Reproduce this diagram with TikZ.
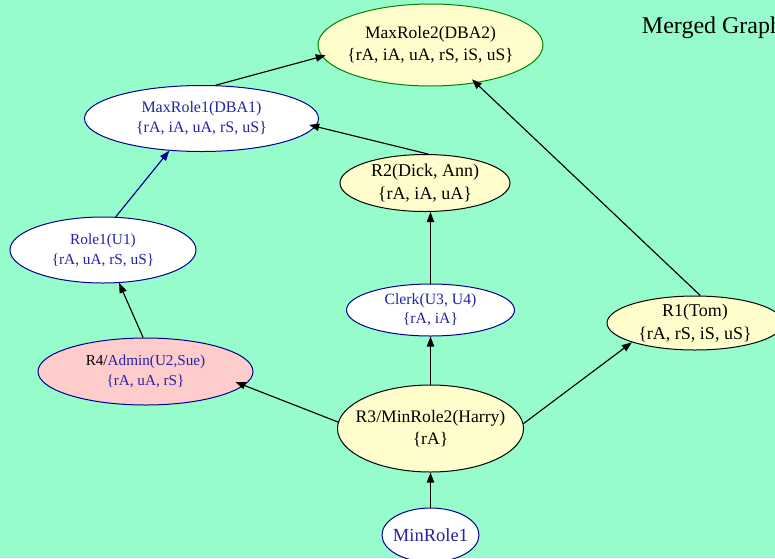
\documentclass[tikz,border=0pt]{standalone}
\usepackage{fontspec}
\setmainfont{Liberation Serif}
\usetikzlibrary{arrows.meta,shapes.geometric}

\definecolor{bgmint}{RGB}{150,252,204}
\definecolor{roleyellow}{RGB}{255,253,204}
\definecolor{rolepink}{RGB}{255,204,204}
\definecolor{rolenavy}{RGB}{0,0,140}
\definecolor{roleblue}{RGB}{35,35,165}
\definecolor{rolegreen}{RGB}{0,130,0}

\tikzset{
  role/.style={ellipse, draw, line width=0.75pt, inner sep=0pt},
  yellowrole/.style={role, fill=roleyellow, draw=black},
  whiterole/.style={role, fill=white, draw=rolenavy},
  pinkrole/.style={role, fill=rolepink, draw=rolenavy},
  toprole/.style={role, fill=roleyellow, draw=rolegreen},
  caption/.style={align=center, inner sep=0pt},
  bigtext/.style={caption, font=\fontsize{13.3pt}{17pt}\selectfont},
  smalltext/.style={caption, text=roleblue, font=\fontsize{11.7pt}{15pt}\selectfont},
  link/.style={draw=black, line width=0.85pt, -{Triangle[length=7.5pt,width=5.5pt]}},
}

\begin{document}
\begin{tikzpicture}[x=0.75pt, y=-0.75pt]
  % canvas
  \fill[bgmint] (0,0) rectangle (775,558);
  \clip (0,0) rectangle (775,558);

  % role hierarchy nodes
  \node[toprole, minimum width=168.75pt, minimum height=61.5pt] (m2) at (430.5,45) {};
  \node[bigtext, font=\fontsize{13.1pt}{16.5pt}\selectfont] (m2t) at (m2) {MaxRole2(DBA2)\\\{rA, iA, uA, rS, iS, uS\}};

  \node[whiterole, minimum width=175.5pt, minimum height=49.5pt] (m1) at (201.5,118.5) {};
  \node[smalltext, font=\fontsize{12pt}{15pt}\selectfont] (m1t) at (m1) {MaxRole1(DBA1)\\\{rA, iA, uA, rS, uS\}};

  \node[yellowrole, minimum width=127.5pt, minimum height=42.75pt] (r2) at (425,183) {};
  \node[bigtext, font=\fontsize{13.5pt}{17.25pt}\selectfont] (r2t) at (r2) {R2(Dick, Ann)\\\{rA, iA, uA\}};

  \node[whiterole, minimum width=139.5pt, minimum height=49.5pt] (role1) at (103,250) {};
  \node[smalltext, font=\fontsize{11.5pt}{15pt}\selectfont] (role1t) at (role1) {Role1(U1)\\\{rA, uA, rS, uS\}};

  \node[whiterole, minimum width=126pt, minimum height=39pt] (clerk) at (430.5,310) {};
  \node[smalltext, font=\fontsize{11.8pt}{14.25pt}\selectfont] (clerkt) at (clerk) {Clerk(U3, U4)\\\{rA, iA\}};

  \node[yellowrole, minimum width=132pt, minimum height=40.5pt] (r1) at (695,323) {};
  \node[bigtext, font=\fontsize{13.5pt}{17.25pt}\selectfont] (r1t) at (r1) {R1(Tom)\\\{rA, rS, iS, uS\}};

  \node[pinkrole, minimum width=161.25pt, minimum height=50.25pt] (r4) at (145.5,371.5) {};
  \node[smalltext, font=\fontsize{11.4pt}{15pt}\selectfont] (r4t) at (r4) {\textcolor{black}{R4/}Admin(U2,Sue)\\\{rA, uA, rS\}};

  \node[yellowrole, minimum width=139.5pt, minimum height=65.25pt] (r3) at (430.5,428.5) {};
  \node[bigtext, font=\fontsize{13.2pt}{16.5pt}\selectfont] (r3t) at (r3) {R3/MinRole2(Harry)\\\{rA\}};

  \node[whiterole, minimum width=72.75pt, minimum height=40.5pt] (min1) at (430.5,535) {};
  \node[smalltext, font=\fontsize{13.9pt}{16pt}\selectfont] (min1t) at (min1) {MinRole1};

  % heading
  \node[anchor=base west, inner sep=0pt, font=\fontsize{18pt}{21pt}\selectfont] (title) at (641.7,33) {Merged Graph};

  % inheritance links
  \draw[link, shorten >=-3pt] (m1.67.4) -- (m2.186.3);
  \draw[link, shorten >=-5pt] (r2.84) -- (m1.-4);
  \draw[link, draw=rolenavy, fill=rolenavy] (role1.69) -- (m1.-135);
  \draw[link] (r4.94) -- (role1.-64.8);
  \draw[link] (clerk.north) -- (clerk.north |- r2.south);
  \draw[link] (r3.north) -- (clerk.south);
  \draw[link, shorten >=-7pt] (r3.176.6) -- (r4.-8);
  \draw[link] (r3.3.4) -- (r1.197.1);
  \draw[link, shorten >=-4pt] (r1.79.5) -- (m2.-40.9);
  \draw[link] (min1.north) -- (r3.south);
\end{tikzpicture}
\end{document}
